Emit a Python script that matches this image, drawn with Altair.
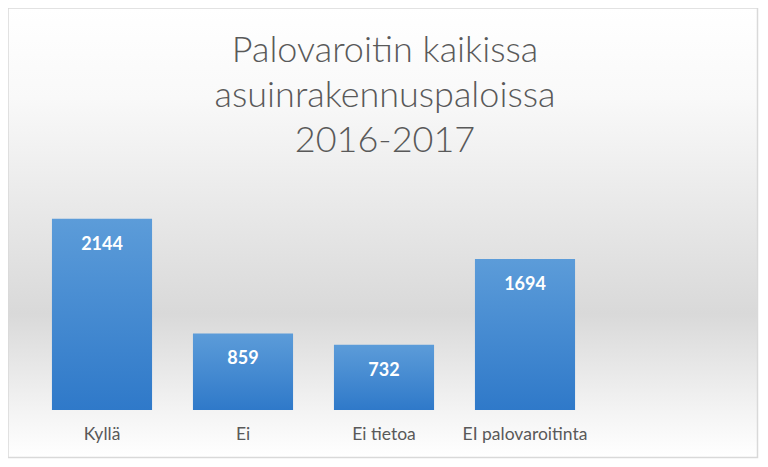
import altair as alt
import pandas as pd

categories = ["Kyllä", "Ei", "Ei tietoa", "EI palovaroitinta"]
values = [2144, 859, 732, 1694]
title_lines = ["Palovaroitin kaikissa", "asuinrakennuspaloissa", "2016-2017"]

df = pd.DataFrame({"cat": categories, "val": values})

W, H = 564, 223
PL, PT, PR, PB = 23.5, 179, 164.5, 49
FONT = "Lato"

bg_grad = alt.Gradient(
    gradient="linear", x1=0, x2=0, y1=0, y2=1,
    stops=[
        alt.GradientStop(offset=0.0, color="#ffffff"),
        alt.GradientStop(offset=0.2, color="#f9f9f9"),
        alt.GradientStop(offset=0.68, color="#d9d9d9"),
        alt.GradientStop(offset=0.9, color="#f4f4f4"),
        alt.GradientStop(offset=1.0, color="#ffffff"),
    ],
)
bar_grad = alt.Gradient(
    gradient="linear", x1=0, x2=0, y1=0, y2=1,
    stops=[
        alt.GradientStop(offset=0.0, color="#5c9cd9"),
        alt.GradientStop(offset=1.0, color="#2f79c9"),
    ],
)

one = pd.DataFrame({"a": [0]})

bg = alt.Chart(one).mark_rect(
    fill=bg_grad, stroke="#d9d9d9", strokeWidth=1.5
).encode(
    x=alt.value(-PL), x2=alt.value(726), y=alt.value(-PT), y2=alt.value(270.5)
)

title = alt.Chart(one).mark_text(
    text=title_lines, align="center", baseline="alphabetic", lineHeight=45,
    font=FONT, fontSize=36, fontWeight=300, color="#595959",
).encode(x=alt.value(353.5), y=alt.value(-125))

x_enc = alt.X(
    "cat:N", sort=categories, title=None,
    scale=alt.Scale(paddingInner=0.29, paddingOuter=0.145),
    axis=alt.Axis(labelAngle=0, domain=False, ticks=False, labelPadding=15, zindex=2,
                  labelFont=FONT, labelFontSize=17.5, labelColor="#595959"),
)
y_enc = alt.Y("val:Q", scale=alt.Scale(domain=[0, 2500]), axis=None)

bars = alt.Chart(df).mark_bar(color=bar_grad).encode(x=x_enc, y=y_enc)

labels = alt.Chart(df).mark_text(
    baseline="alphabetic", dy=31, font=FONT, fontSize=18, fontWeight="bold", color="white"
).encode(x=x_enc, y=y_enc, text="val:Q")

chart = alt.layer(bg, title, bars, labels).properties(
    width=W, height=H,
    autosize=alt.AutoSizeParams(type="none"),
    padding={"left": PL, "top": PT, "right": PR, "bottom": PB},
).configure_view(stroke=None).configure(background="white")

chart.save("out.html", embed_options={"renderer": "svg", "actions": False})
